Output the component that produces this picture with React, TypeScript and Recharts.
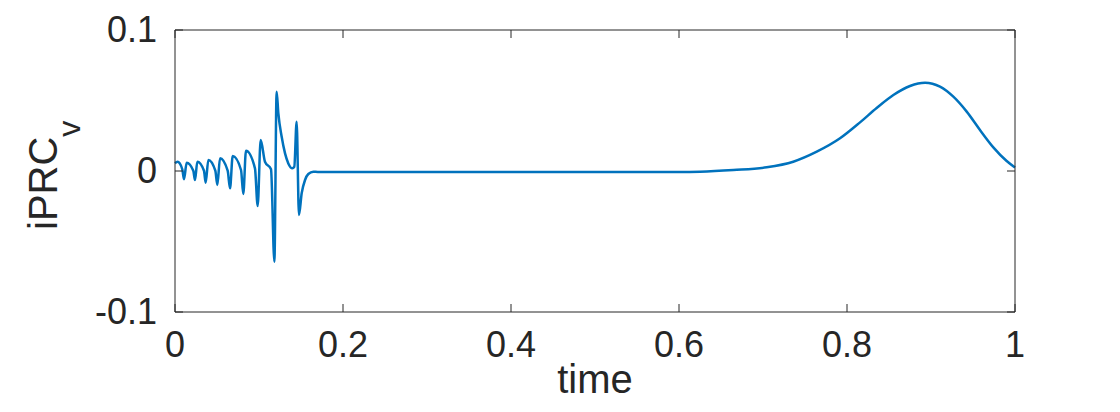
import React from "react";
import { LineChart, Line, XAxis, YAxis } from "recharts";

// time samples and iPRC_v values
const times = [
  0.0, 0.003, 0.0087, 0.0107, 0.0139, 0.0218, 0.0238, 0.0266, 0.0345, 0.0365,
  0.0397, 0.048, 0.0504, 0.0536, 0.0627, 0.0655, 0.0687, 0.0786, 0.0813, 0.0845,
  0.0952, 0.0984, 0.102, 0.1071, 0.1143, 0.1183, 0.121, 0.123, 0.127, 0.131,
  0.1349, 0.1397, 0.142, 0.1448, 0.1476, 0.1508, 0.1548, 0.1587, 0.1647, 0.17,
  0.3, 0.45, 0.6, 0.625, 0.6647, 0.7044, 0.736, 0.764, 0.7917, 0.8155,
  0.8353, 0.8552, 0.875, 0.8929, 0.9107, 0.9266, 0.9425, 0.9583, 0.9742, 0.9901,
  1.0,
];
const iprcV = [
  0.0055, 0.0065, 0.0012, -0.0059, 0.0059, 0.0002, -0.0064, 0.0066, 0.0002, -0.0083,
  0.0078, 0.0002, -0.0099, 0.009, 0.0002, -0.0123, 0.0106, 0.0007, -0.0163, 0.0144,
  0.0019, -0.0248, 0.022, 0.0066, 0.0012, -0.0643, 0.0562, 0.041, 0.0243, 0.0125,
  0.0054, 0.0019, 0.003, 0.035, -0.0312, -0.0158, -0.0064, -0.0021, -0.0005, -0.0007,
  -0.0007, -0.0007, -0.0007, -0.0005, 0.0007, 0.0026, 0.0066, 0.0137, 0.0232, 0.0345,
  0.0447, 0.0539, 0.0603, 0.0626, 0.0598, 0.0527, 0.0421, 0.0291, 0.0168, 0.0071,
  0.0025,
];
const xTicks = [0, 0.2, 0.4, 0.6, 0.8, 1];
const yTicks = [-0.1, 0, 0.1];

const data = times.map((t, i) => ({ time: t, iprc: iprcV[i] }));

const AXIS = "#262626";
const LINE = "#0072BD";
const FONT = "'Liberation Sans', Arial, Helvetica, sans-serif";
const TICK_LEN = 8;

const BottomTick = (props: any) => {
  const { x, y, payload } = props;
  return (
    <g>
      <line x1={x} y1={y} x2={x} y2={y - TICK_LEN} stroke={AXIS} />
      <text x={x} y={y + 45} textAnchor="middle" fontSize={36} fill={AXIS} fontFamily={FONT}>
        {payload.value}
      </text>
    </g>
  );
};

const TopTick = (props: any) => {
  const { x, y } = props;
  return <line x1={x} y1={y} x2={x} y2={y + TICK_LEN} stroke={AXIS} />;
};

const LeftTick = (props: any) => {
  const { x, y, payload } = props;
  return (
    <g>
      <line x1={x} y1={y} x2={x + TICK_LEN} y2={y} stroke={AXIS} />
      <text x={x - 18} y={y + 12} textAnchor="end" fontSize={36} fill={AXIS} fontFamily={FONT}>
        {payload.value}
      </text>
    </g>
  );
};

const RightTick = (props: any) => {
  const { x, y } = props;
  return <line x1={x} y1={y} x2={x - TICK_LEN} y2={y} stroke={AXIS} />;
};

const XLabel = () => (
  <text x={595} y={393} textAnchor="middle" fontSize={40} fill={AXIS} fontFamily={FONT}>
    time
  </text>
);

const YLabel = () => (
  <text transform="rotate(-90)" x={-230} y={57} fontSize={40} fill={AXIS} fontFamily={FONT}>
    iPRC
    <tspan dy={23} fontSize={32}>
      v
    </tspan>
  </text>
);

export default function App() {
  return (
    <div style={{ position: "absolute", left: 0, top: 0, background: "#fff" }}>
      <LineChart
        width={1120}
        height={412}
        data={data}
        margin={{ top: 29, right: 104, bottom: 0, left: 0 }}
      >
        <XAxis
          dataKey="time"
          type="number"
          domain={[0, 1]}
          ticks={xTicks}
          height={100}
          stroke={AXIS}
          tickLine={false}
          tickSize={0}
          tickMargin={0}
          tick={<BottomTick />}
          label={<XLabel />}
        />
        <XAxis
          xAxisId="top"
          orientation="top"
          dataKey="time"
          type="number"
          domain={[0, 1]}
          ticks={xTicks}
          height={1}
          stroke={AXIS}
          tickLine={false}
          tickSize={0}
          tickMargin={0}
          tick={<TopTick />}
        />
        <YAxis
          type="number"
          domain={[-0.1, 0.1]}
          ticks={yTicks}
          width={175}
          stroke={AXIS}
          tickLine={false}
          tickSize={0}
          tickMargin={0}
          tick={<LeftTick />}
          label={<YLabel />}
        />
        <YAxis
          yAxisId="right"
          orientation="right"
          type="number"
          domain={[-0.1, 0.1]}
          ticks={yTicks}
          width={1}
          stroke={AXIS}
          tickLine={false}
          tickSize={0}
          tickMargin={0}
          tick={<RightTick />}
        />
        {/* invisible copy so the top/right box axes get drawn */}
        <Line
          xAxisId="top"
          yAxisId="right"
          type="monotone"
          dataKey="iprc"
          stroke="none"
          strokeOpacity={0}
          dot={false}
          activeDot={false}
          legendType="none"
          isAnimationActive={false}
        />
        <Line
          type="monotone"
          dataKey="iprc"
          stroke={LINE}
          strokeWidth={2.5}
          dot={false}
          isAnimationActive={false}
        />
      </LineChart>
    </div>
  );
}
